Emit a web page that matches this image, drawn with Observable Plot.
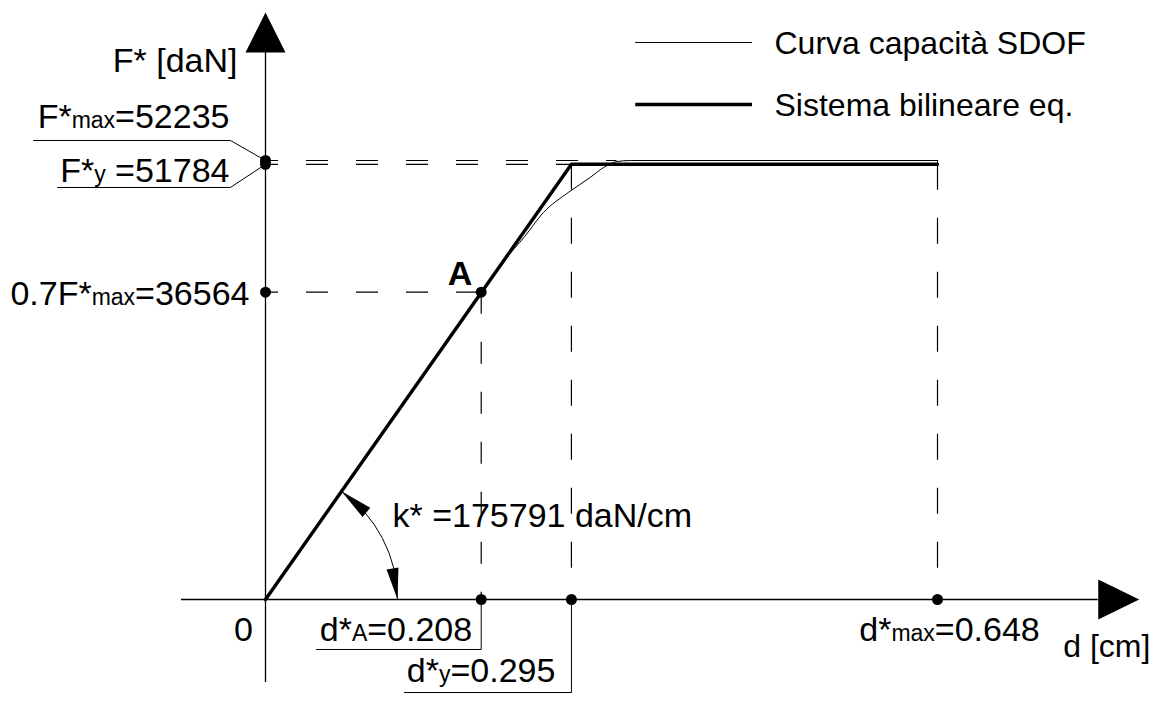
<!DOCTYPE html>
<html>
<head>
<meta charset="utf-8">
<script src="https://cdn.jsdelivr.net/npm/d3@7"></script>
<script src="https://cdn.jsdelivr.net/npm/@observablehq/plot@0.6"></script>
<style>
  html, body { margin: 0; padding: 0; background: #fff; }
  #chart svg { display: block; }
</style>
</head>
<body>
<div id="chart"></div>
<script>
// ---------------- data ----------------
const kStar = 175791;          // daN/cm
const FMax = 52235;            // daN
const Fy = 51784;              // daN
const F07 = 36564;             // 0.7 F*max
const dA = 0.208;              // cm
const dY = 0.295;              // cm
const dMax = 0.648;            // cm

// SDOF capacity curve
const capD = [0, 0.100, 0.208, 0.230, 0.250, 0.268, 0.292, 0.313, 0.326, 0.339, 0.352, 0.648];
const capF = [0, 17580, 36564, 40300, 43200, 46050, 48430, 50210, 51400, 52110, 52235, 52235];

// equivalent bilinear system
const bilD = [0, dY, dMax];
const bilF = [0, Fy, Fy];

// texts ("_" toggles subscript)
const legendLabels = ["Curva capacità SDOF", "Sistema bilineare eq."];
const yTitle = "F* [daN]";
const xTitle = "d [cm]";
const originLabel = "0";
const pointLabel = "A";
const labFMax = "F*_max_=52235";
const labFy = "F*_y_ =51784";
const labF07 = "0.7F*_max_=36564";
const labDA = "d*_A_=0.208";
const labDY = "d*_y_=0.295";
const labDMax = "d*_max_=0.648";
const labK = "k* =175791 daN/cm";

// ---------------- annotation layout (data units) ----------------
const dMin = -0.081, dEnd = 0.803;      // x axis extent
const FMin = -9876, FTop = 65086;       // y axis extent
const legX1 = 0.357, legX2 = 0.4696;
const legY1 = 66276, legY2 = 58899;
const leadFMaxY = 54615, leadFyY = 49023;
const leadFMaxX0 = -0.2237, leadFyX0 = -0.2006, leadFX1 = -0.0338;
const leadDAY = -5949, leadDAX0 = 0.0492;
const leadDYY = -11066, leadDYX0 = 0.134;
const dArc1 = 0.0732, dArc2 = 0.1273;
const plateauStart = 0.339;

const cap = capD.map((d, i) => ({d, F: capF[i]}));
const bil = bilD.map((d, i) => ({d, F: bilF[i]}));

// filled triangle symbols (pixel geometry)
function tri(p) {
  return {draw(ctx) { ctx.moveTo(p[0][0], p[0][1]); ctx.lineTo(p[1][0], p[1][1]); ctx.lineTo(p[2][0], p[2][1]); ctx.closePath(); }};
}
function head(tx, ty, hw) {           // tip at 0,0, tail centre at tx,ty
  const L = Math.hypot(tx, ty), px = -ty / L * hw, py = tx / L * hw;
  return tri([[0, 0], [tx + px, ty + py], [tx - px, ty - py]]);
}

const font = '"Liberation Sans", Arial, Helvetica, sans-serif';
const dash = {stroke: "#000", strokeWidth: 1.2, strokeDasharray: "22,28"};
const txt = {fill: "#000", fontSize: 34, text: d => d};
const txtS = {fill: "#000", fontSize: 32, text: d => d};

const chart = Plot.plot({
  width: 1169,
  height: 702,
  margin: 0,
  x: {domain: [0, dMax], range: [265, 937], axis: null},
  y: {domain: [0, FMax], range: [599, 160], axis: null},
  style: {background: "#fff", fontFamily: font, fontSize: "32px", color: "#000", overflow: "visible"},
  marks: [
    // axes
    Plot.ruleY([0], {x1: dMin, x2: dEnd, stroke: "#000", strokeWidth: 1.3}),
    Plot.ruleX([0], {y1: FMin, y2: FTop, stroke: "#000", strokeWidth: 1.3}),
    Plot.dot([[0, FTop]], {symbol: tri([[0, -40], [20, 0], [-20, 0]]), fill: "#000", stroke: "none"}),
    Plot.dot([[dEnd, 0]], {symbol: tri([[41, 0], [0, -20], [0, 20]]), fill: "#000", stroke: "none"}),

    // dashed reference lines
    Plot.ruleY([FMax], {x1: 0, x2: plateauStart, ...dash, strokeDashoffset: 9}),
    Plot.ruleY([Fy], {x1: 0, x2: dY, ...dash, strokeDashoffset: 9}),
    Plot.ruleY([F07], {x1: 0, x2: dA, ...dash, strokeDashoffset: 9}),
    Plot.ruleX([dA], {y1: F07, y2: 0, ...dash}),
    Plot.ruleX([dY], {y1: Fy, y2: 0, ...dash, strokeDasharray: "26,28"}),
    Plot.ruleX([dMax], {y1: Fy, y2: 0, ...dash, strokeDasharray: "26,28"}),
    Plot.ruleX([dMax], {y1: Fy, y2: FMax, stroke: "#000", strokeWidth: 1}),

    // curves
    Plot.line(cap, {x: "d", y: "F", stroke: "#000", strokeWidth: 1, curve: "monotone-x"}),
    Plot.line(bil, {x: "d", y: "F", stroke: "#000", strokeWidth: 3.4, strokeLinejoin: "miter"}),

    // leader lines
    Plot.line([[leadFMaxX0, leadFMaxY], [leadFX1, leadFMaxY], [0, FMax]], {stroke: "#000", strokeWidth: 1}),
    Plot.line([[leadFyX0, leadFyY], [leadFX1, leadFyY], [0, Fy]], {stroke: "#000", strokeWidth: 1}),
    Plot.line([[dA, 0], [dA, leadDAY], [leadDAX0, leadDAY]], {stroke: "#000", strokeWidth: 1}),
    Plot.line([[dY, 0], [dY, leadDYY], [leadDYX0, leadDYY]], {stroke: "#000", strokeWidth: 1}),

    // stiffness arc
    Plot.arrow([{x1: dArc1, y1: kStar * dArc1, x2: dArc2, y2: 0}],
      {x1: "x1", y1: "y1", x2: "x2", y2: "y2", bend: 27.5, headLength: 0, stroke: "#000", strokeWidth: 1}),
    Plot.dot([[dArc1, kStar * dArc1]], {symbol: head(25, 21, 6), fill: "#000", stroke: "none"}),
    Plot.dot([[dArc2, 0]], {symbol: head(-5, -31, 6), fill: "#000", stroke: "none"}),

    // points
    Plot.dot([[0, FMax], [0, Fy], [0, F07], [dA, F07], [dA, 0], [dY, 0], [dMax, 0]], {r: 5.5, fill: "#000", stroke: "none"}),

    // legend
    Plot.ruleY([legY1], {x1: legX1, x2: legX2, stroke: "#000", strokeWidth: 1}),
    Plot.ruleY([legY2], {x1: legX1, x2: legX2, stroke: "#000", strokeWidth: 3.4}),
    Plot.text([legendLabels[0]], {...txtS, x: legX2, y: legY1, textAnchor: "start", dx: 22, dy: 1}),
    Plot.text([legendLabels[1]], {...txtS, x: legX2, y: legY2, textAnchor: "start", dx: 22, dy: 1}),

    // labels
    Plot.text([yTitle], {...txt, x: 0, y: FTop, textAnchor: "end", dx: -28, dy: 9}),
    Plot.text([labFMax], {...txt, x: 0, y: FMax, textAnchor: "end", dx: -36, dy: -43}),
    Plot.text([labFy], {...txt, x: 0, y: Fy, textAnchor: "end", dx: -36, dy: 7}),
    Plot.text([labF07], {...txt, x: 0, y: F07, textAnchor: "end", dx: -16, dy: 2}),
    Plot.text([pointLabel], {...txt, x: dA, y: F07, textAnchor: "end", dx: -9, dy: -18, fontWeight: "bold"}),
    Plot.text([labK], {...txt, x: dArc2, y: 0, textAnchor: "start", dx: -5, dy: -83}),
    Plot.text([originLabel], {...txt, x: 0, y: 0, textAnchor: "middle", dx: -22, dy: 31}),
    Plot.text([labDA], {...txt, x: dA, y: 0, textAnchor: "end", dx: -9, dy: 31}),
    Plot.text([labDY], {...txt, x: dY, y: 0, textAnchor: "end", dx: -16, dy: 72}),
    Plot.text([labDMax], {...txt, x: dMax, y: 0, textAnchor: "middle", dx: 12, dy: 31}),
    Plot.text([xTitle], {...txtS, x: dEnd, y: 0, textAnchor: "start", dx: -35, dy: 47})
  ]
});

// subscripts: turn "_" segments into smaller tspans
const NS = "http://www.w3.org/2000/svg";
chart.querySelectorAll("text").forEach(t => {
  const s = t.textContent;
  if (!s.includes("_")) return;
  const parts = s.split("_");
  while (t.firstChild) t.removeChild(t.firstChild);
  parts.forEach((p, i) => {
    if (!p) return;
    const ts = document.createElementNS(NS, "tspan");
    ts.textContent = p;
    if (i % 2) ts.setAttribute("font-size", "23");
    t.appendChild(ts);
  });
});

document.getElementById("chart").appendChild(chart);
</script>
</body>
</html>
